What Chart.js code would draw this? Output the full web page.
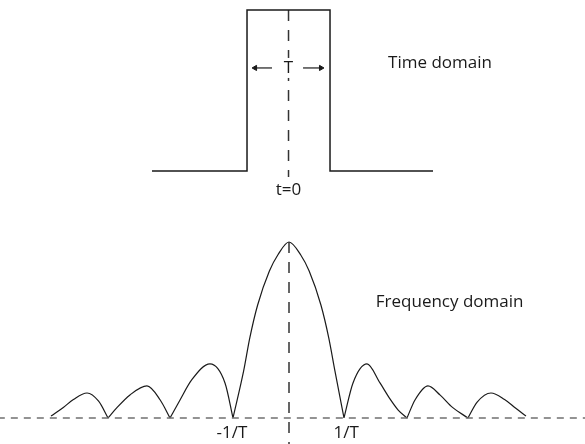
<!DOCTYPE html>
<html>
<head>
<meta charset="utf-8">
<script src="https://cdn.jsdelivr.net/npm/chart.js@4/dist/chart.umd.min.js"></script>
<style>
  html, body { margin: 0; padding: 0; background: #ffffff; }
  #wrap { position: relative; width: 585px; height: 444px; overflow: hidden; }
  #timeCanvas { position: absolute; left: 0; top: 0; }
  #freqCanvas { position: absolute; left: 0; top: 210px; }
</style>
</head>
<body>
<div id="wrap">
  <canvas id="timeCanvas" width="585" height="210"></canvas>
  <canvas id="freqCanvas" width="585" height="234"></canvas>
</div>
<script>
// ---------- Time domain (units of T) ----------
const timeX = [-1.645, -0.5, -0.5, 0.5, 0.5, 1.741];
const timeY = [0, 0, 1, 1, 0, 0];
const timeAxisX = [0, 0];
const timeAxisY = [1.0, -0.037];
const arrowLeftX = [-0.403, -0.199];
const arrowRightX = [0.391, 0.175];
const arrowY = [0.64, 0.64];
const timeLabels = ["T", "t=0", "Time domain"];

// ---------- Frequency domain (units of 1/T), null separates lobes ----------
const freqX = [
  -4.25, -4.03, -3.85, -3.607, -3.40, -3.232, -3.232,
  -3.232, -3.077, -2.84, -2.536, -2.30, -2.125, -2.125,
  -2.125, -1.946, -1.738, -1.411, -1.143, -1.0, -1.0,
  -1.0, -0.81, -0.70, -0.56, -0.35, -0.20, 0, 0.21, 0.36, 0.57, 0.71, 0.82, 0.982, 0.982,
  0.982, 1.143, 1.393, 1.625, 1.80, 1.95, 2.107, 2.107,
  2.107, 2.25, 2.482, 2.70, 2.92, 3.196, 3.196,
  3.196, 3.36, 3.607, 3.85, 4.05, 4.232
];
const freqY = [
  0.011, 0.06, 0.105, 0.142, 0.095, 0, null,
  0, 0.057, 0.131, 0.182, 0.102, 0, null,
  0, 0.102, 0.216, 0.307, 0.199, 0, null,
  0, 0.267, 0.455, 0.642, 0.835, 0.926, 1.0, 0.926, 0.835, 0.642, 0.455, 0.267, 0, null,
  0, 0.199, 0.307, 0.199, 0.11, 0.045, 0, null,
  0, 0.102, 0.182, 0.13, 0.06, 0, null,
  0, 0.09, 0.142, 0.105, 0.055, 0.011
];
const baseX = [-5.2, 5.3];
const baseY = [0, 0];
const freqAxisX = [0, 0];
const freqAxisY = [1.0, -0.16];
const freqLabels = ["Frequency domain", "-1/T", "1/T"];

const INK = "#1a1a1a";
const FONT = "17px 'Open Sans', sans-serif";

function pts(xs, ys) { return xs.map((x, i) => ({ x: x, y: ys[i] })); }

const textPlugin = {
  id: 'textLabels',
  afterDatasetsDraw(chart) {
    const items = chart.options.plugins.textLabels.items || [];
    const ctx = chart.ctx;
    const xs = chart.scales.x, ys = chart.scales.y;
    ctx.save();
    ctx.font = FONT;
    ctx.fillStyle = INK;
    ctx.textBaseline = 'middle';
    items.forEach(it => {
      ctx.textAlign = it.align;
      const px = xs.getPixelForValue(it.x);
      const py = ys.getPixelForValue(it.y);
      if (it.bg) {
        const w = ctx.measureText(it.text).width;
        ctx.fillStyle = '#ffffff';
        ctx.fillRect(px - w / 2 - 3, py - 10, w + 6, 20);
        ctx.fillStyle = INK;
      }
      ctx.fillText(it.text, px, py);
    });
    ctx.restore();
  }
};

const baseOpts = (xmin, xmax, ymin, ymax, items) => ({
  responsive: false,
  animation: false,
  events: [],
  layout: { padding: 0, autoPadding: false },
  scales: {
    x: { type: 'linear', min: xmin, max: xmax, display: false },
    y: { type: 'linear', min: ymin, max: ymax, display: false }
  },
  plugins: { legend: { display: false }, tooltip: { enabled: false }, textLabels: { items: items } },
  elements: { point: { radius: 0 } }
});

new Chart(document.getElementById('timeCanvas'), {
  type: 'line',
  data: {
    datasets: [
      { data: pts(timeX, timeY), borderColor: INK, borderWidth: 1.5, tension: 0, clip: false, pointRadius: 0 },
      { data: pts(timeAxisX, timeAxisY), borderColor: '#333333', borderWidth: 1.5, borderDash: [11, 9], clip: false, pointRadius: 0 },
      { data: pts(arrowLeftX, arrowY), borderColor: INK, borderWidth: 1.2, clip: false,
        pointStyle: 'triangle', pointRadius: [3, 0], pointRotation: [-90, 0], pointBackgroundColor: INK, pointBorderColor: INK, pointBorderWidth: 1 },
      { data: pts(arrowRightX, arrowY), borderColor: INK, borderWidth: 1.2, clip: false,
        pointStyle: 'triangle', pointRadius: [3, 0], pointRotation: [90, 0], pointBackgroundColor: INK, pointBorderColor: INK, pointBorderWidth: 1 }
    ]
  },
  options: baseOpts(-3.476, 3.572, -0.242, 1.062, [
    { text: timeLabels[0], x: 0, y: 0.64, align: 'center', bg: true },
    { text: timeLabels[1], x: 0, y: -0.118, align: 'center' },
    { text: timeLabels[2], x: 1.199, y: 0.671, align: 'left' }
  ]),
  plugins: [textPlugin]
});

new Chart(document.getElementById('freqCanvas'), {
  type: 'line',
  data: {
    datasets: [
      { data: pts(baseX, baseY), borderColor: '#707070', borderWidth: 1.5, borderDash: [7, 6], clip: false, pointRadius: 0 },
      { data: pts(freqAxisX, freqAxisY), borderColor: '#333333', borderWidth: 1.5, borderDash: [11, 9], clip: false, pointRadius: 0 },
      { data: pts(freqX, freqY), borderColor: INK, borderWidth: 1.2, cubicInterpolationMode: 'monotone', spanGaps: false, clip: false, pointRadius: 0 }
    ]
  },
  options: baseOpts(-5.161, 5.286, -0.148, 1.182, [
    { text: freqLabels[0], x: 1.55, y: 0.659, align: 'left' },
    { text: freqLabels[1], x: -1.02, y: -0.085, align: 'center' },
    { text: freqLabels[2], x: 1.02, y: -0.085, align: 'center' }
  ]),
  plugins: [textPlugin]
});
</script>
</body>
</html>
